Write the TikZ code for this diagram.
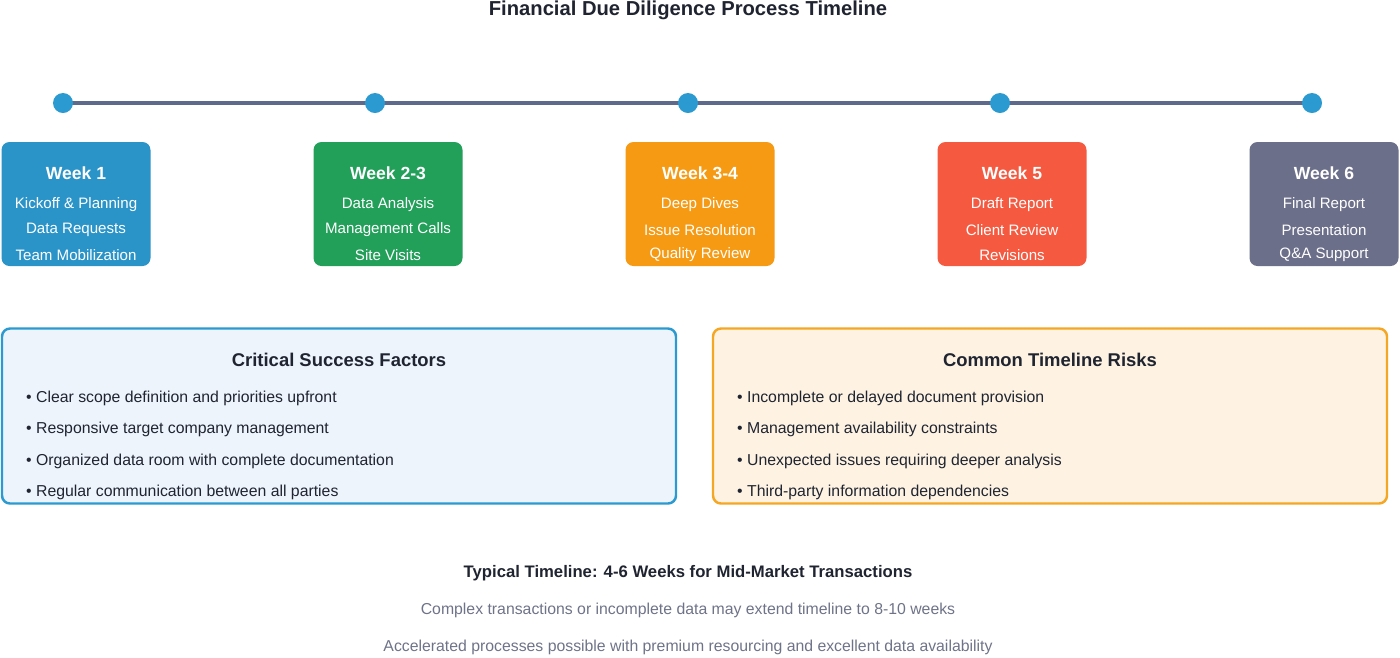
\documentclass[tikz,border=0pt]{standalone}
\usepackage{fontspec}
\setmainfont{Liberation Sans}
\usetikzlibrary{positioning}
\definecolor{lineslate}{HTML}{5E6A8C}
\definecolor{dotblue}{HTML}{2A9AD0}
\definecolor{weekblue}{HTML}{2A94C9}
\definecolor{weekgreen}{HTML}{22A05A}
\definecolor{weekorange}{HTML}{F59A12}
\definecolor{weekred}{HTML}{F55A40}
\definecolor{weekgray}{HTML}{6B6F8A}
\definecolor{panelblue}{HTML}{EEF4FC}
\definecolor{panelorange}{HTML}{FEF3E3}
\definecolor{riskorange}{HTML}{F5A623}
\definecolor{darktext}{HTML}{1F2430}
\definecolor{softtext}{HTML}{6E7388}
\begin{document}
\begin{tikzpicture}[x=0.02cm,y=-0.02cm]
  \tikzstyle{dot}=[circle,fill=dotblue,inner sep=0pt,minimum size=20*0.02cm]
  \tikzstyle{weekbox}=[rounded corners=8*0.02cm,minimum width=149*0.02cm,minimum height=124*0.02cm,inner sep=0pt]
  \tikzstyle{weektitle}=[text=white,font=\fontsize{10}{12}\selectfont\bfseries]
  \tikzstyle{weekitem}=[text=white,font=\fontsize{8.6}{10}\selectfont]
  \tikzstyle{panel}=[rounded corners=8*0.02cm,line width=1.4pt,minimum width=674*0.02cm,minimum height=175*0.02cm]
  \tikzstyle{bullet}=[anchor=west,text=darktext,font=\fontsize{9}{11}\selectfont]
  \useasboundingbox (0,0) rectangle (1400,657);

  % Title
  \node (title) at (688,10) [text=darktext,font=\fontsize{11.5}{14}\selectfont\bfseries] {Financial Due Diligence Process Timeline};

  % Timeline
  \foreach \i/\x in {1/63,2/375,3/688,4/1000,5/1312}
    \coordinate (p\i) at (\x,103);
  \draw[lineslate,line width=2.2pt] (p1) -- (p5);
  \foreach \i in {1,...,5}
    \node (d\i)[dot] at (p\i) {};

  % Week boxes
  \foreach \i/\x/\c/\t/\a/\b/\d in {
      1/76/weekblue/Week 1/Kickoff \& Planning/Data Requests/Team Mobilization,
      2/388/weekgreen/Week 2-3/Data Analysis/Management Calls/Site Visits,
      3/700/weekorange/Week 3-4/Deep Dives/Issue Resolution/Quality Review,
      4/1012/weekred/Week 5/Draft Report/Client Review/Revisions,
      5/1324/weekgray/Week 6/Final Report/Presentation/Q\&A Support} {
    \node (w\i)[weekbox,fill=\c] at (\x,204) {};
    \node (wt\i)[weektitle] at (\x,173) {\t};
    \node (wa\i)[weekitem] at (\x,205) {\a};
    \node (wb\i)[weekitem] at (\x,230) {\b};
    \node (wc\i)[weekitem] at (\x,255) {\d};
  }

  % Success factors
  \node (success)[panel,draw=dotblue,fill=panelblue] at (339,416) {};
  \node (successtitle) at (339,360) [text=darktext,font=\fontsize{10.5}{12}\selectfont\bfseries] {Critical Success Factors};
  \foreach \y/\t in {398/Clear scope definition and priorities upfront,
      429/Responsive target company management,
      461/Organized data room with complete documentation,
      492/Regular communication between all parties}
    \node[bullet] at (20,\y) {\textbullet\ \t};

  % Risks
  \node (risks)[panel,draw=riskorange,fill=panelorange] at (1050,416) {};
  \node (riskstitle) at (1050,360) [text=darktext,font=\fontsize{10.5}{12}\selectfont\bfseries] {Common Timeline Risks};
  \foreach \y/\t in {398/Incomplete or delayed document provision,
      429/Management availability constraints,
      461/Unexpected issues requiring deeper analysis,
      492/Third-party information dependencies}
    \node[bullet] at (731,\y) {\textbullet\ \t};

  % Footer
  \node (typical) at (688,573) [text=darktext,font=\fontsize{9.5}{11}\selectfont\bfseries] {Typical Timeline: 4-6 Weeks for Mid-Market Transactions};
  \node (complex) at (688,610) [text=softtext,font=\fontsize{9}{11}\selectfont] {Complex transactions or incomplete data may extend timeline to 8-10 weeks};
  \node (accel) at (688,647) [text=softtext,font=\fontsize{9}{11}\selectfont] {Accelerated processes possible with premium resourcing and excellent data availability};
\end{tikzpicture}
\end{document}
